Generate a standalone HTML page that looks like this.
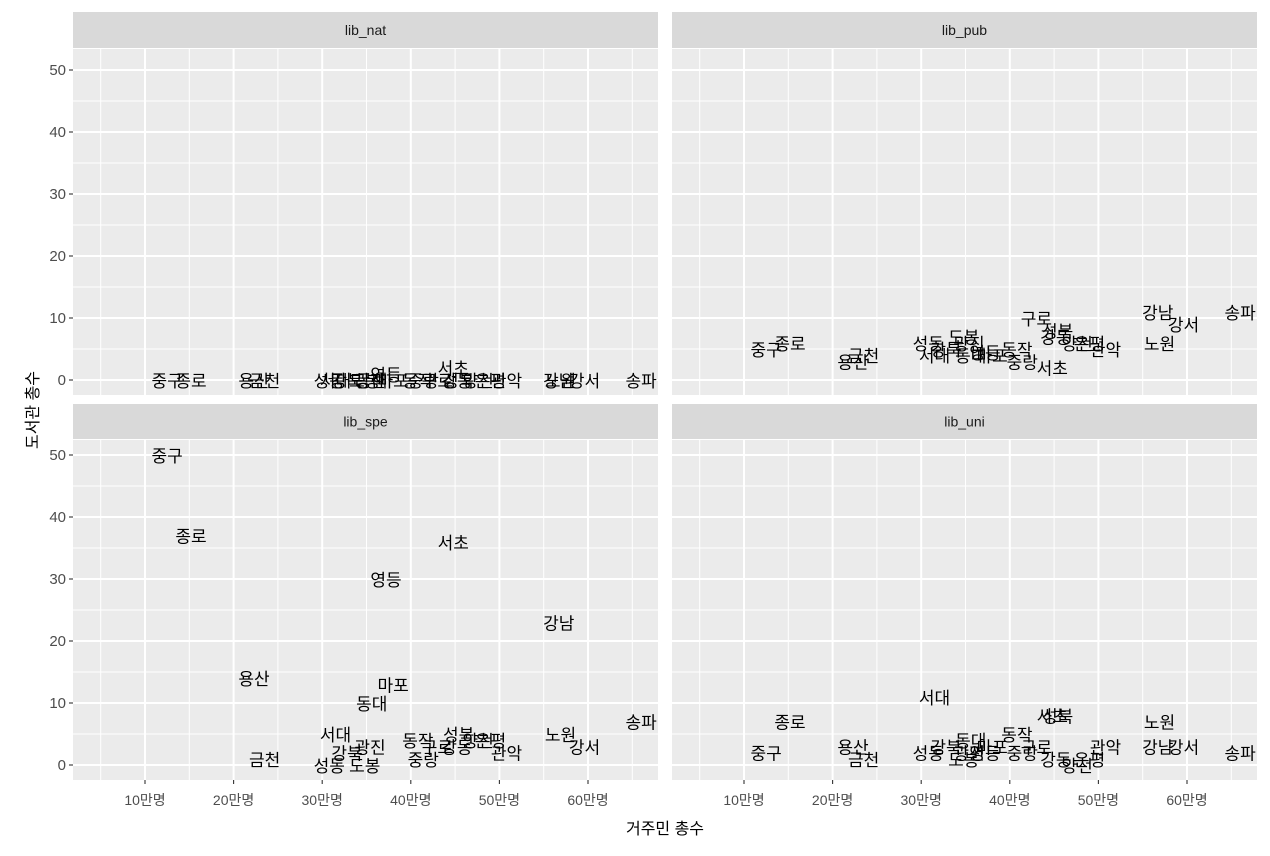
<!DOCTYPE html>
<html><head><meta charset="utf-8"><style>
body{margin:0;background:#fff;}
svg text{font-family:"Liberation Sans","Noto Sans CJK KR",sans-serif;}
</style></head><body>
<svg id="chart" width="1270" height="851" xmlns="http://www.w3.org/2000/svg"></svg>
<script>
const districts=["중구","종로","용산","금천","성동","서대","강북","광진","도봉","동대","마포","영등","동작","중랑","구로","서초","성북","강동","양천","은평","관악","노원","강남","강서","송파"];
const population=[12.5,15.2,22.3,23.5,30.8,31.5,32.8,35.4,34.8,35.6,38,37.2,40.8,41.4,43,44.8,45.4,45.2,47.6,49,50.8,56.9,56.7,59.6,66];
const libNat=[0,0,0,0,0,0,0,0,0,0,0,1,0,0,0,2,0,0,0,0,0,0,0,0,0];
const libPub=[5,6,3,4,6,4,5,6,7,4,4,4.5,5,3,10,2,8,7,6,6,5,6,11,9,11];
const libSpe=[50,37,14,1,0,5,2,3,0,10,13,30,4,1,3,36,5,3,4,4,2,5,23,3,7];
const libUni=[2,7,3,1,2,11,3,2,1,4,3,2,5,2,3,8,8,1,0,1,3,7,3,3,2];
const facets=["lib_nat","lib_pub","lib_spe","lib_uni"];
const facetValues=[libNat,libPub,libSpe,libUni];
const xTicks=[10,20,30,40,50,60];
const xTickLabels=["10만명","20만명","30만명","40만명","50만명","60만명"];
const yTicks=[0,10,20,30,40,50];

const svg=document.getElementById('chart');
const NS="http://www.w3.org/2000/svg";
function mk(tag,attrs,parent){const e=document.createElementNS(NS,tag);for(const k in attrs)e.setAttribute(k,attrs[k]);(parent||svg).appendChild(e);return e;}
const panels=[{x0:73,x1:658,y0:49,y1:395,sy:12,sh:36},{x0:672,x1:1257,y0:49,y1:395,sy:12,sh:36},{x0:73,x1:658,y0:440,y1:780,sy:404,sh:35},{x0:672,x1:1257,y0:440,y1:780,sy:404,sh:35}];
const xs=(p,v)=>p.x0-16.6+8.86*v;
const ys=(p,v)=>p.y1-15-6.2*v;
panels.forEach((p,i)=>{
  const g=mk('g',{});
  
  
  const strip=mk('rect',{x:p.x0,y:p.sy,width:p.x1-p.x0,height:p.sh,fill:'#d9d9d9'},g);
  
  
  const st=mk('text',{x:(p.x0+p.x1)/2,y:p.sy+p.sh/2+5,'text-anchor':'middle','font-size':'14',fill:'#1a1a1a'},g);
  st.textContent=facets[i];
  
  
  mk('rect',{x:p.x0,y:p.y0,width:p.x1-p.x0,height:p.y1-p.y0,fill:'#ebebeb'},g);
  for(let v=5;v<=65;v+=10)mk('line',{x1:xs(p,v),x2:xs(p,v),y1:p.y0,y2:p.y1,stroke:'#fff','stroke-width':1},g);
  for(let v=5;v<=45;v+=10)mk('line',{x1:p.x0,x2:p.x1,y1:ys(p,v),y2:ys(p,v),stroke:'#fff','stroke-width':1},g);
  xTicks.forEach(v=>mk('line',{x1:xs(p,v),x2:xs(p,v),y1:p.y0,y2:p.y1,stroke:'#fff','stroke-width':2},g));
  yTicks.forEach(v=>mk('line',{x1:p.x0,x2:p.x1,y1:ys(p,v),y2:ys(p,v),stroke:'#fff','stroke-width':2},g));
  if(p.x0<100){
    yTicks.forEach(v=>{
      mk('line',{x1:p.x0-4,x2:p.x0,y1:ys(p,v),y2:ys(p,v),stroke:'#333','stroke-width':1.1},g);
      const t=mk('text',{x:p.x0-7,y:ys(p,v)+5,'text-anchor':'end','font-size':'15',fill:'#4d4d4d'},g);
      t.textContent=v;
      
      
    });
  }
  if(i>=2){
    xTicks.forEach((v,j)=>{
      mk('line',{x1:xs(p,v),x2:xs(p,v),y1:p.y1,y2:p.y1+4,stroke:'#333','stroke-width':1.1},g);
      const t=mk('text',{x:xs(p,v),y:p.y1+25,'text-anchor':'middle','font-size':'14',fill:'#4d4d4d'},g);
      t.textContent=xTickLabels[j];
      
      
    });
  }
  const vals=facetValues[i];
  districts.forEach((d,k)=>{
    const t=mk('text',{x:xs(p,population[k]),y:ys(p,vals[k])+7,'text-anchor':'middle','font-size':'17',fill:'#000'},g);
    t.textContent=d;
    
    
  });
});
const xt=mk('text',{x:665,y:834,'text-anchor':'middle','font-size':'16',fill:'#000'});
xt.textContent="거주민 총수";


const yt=mk('text',{x:0,y:0,'text-anchor':'middle','font-size':'16',fill:'#000',transform:'translate(38,410) rotate(-90)'});
yt.textContent="도서관 총수";


</script>
</body></html>
